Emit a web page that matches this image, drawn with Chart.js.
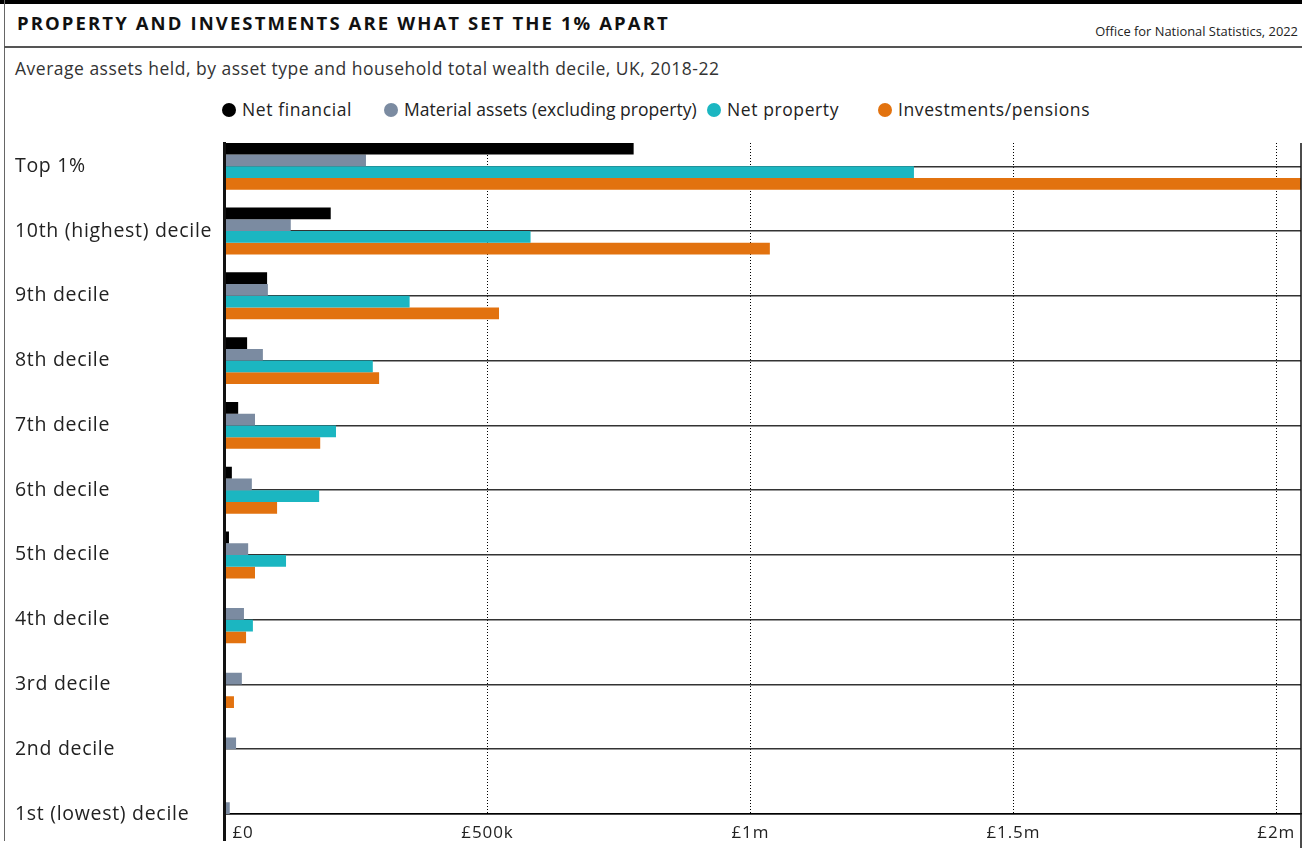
<!DOCTYPE html>
<html>
<head>
<meta charset="utf-8">
<script src="https://cdn.jsdelivr.net/npm/chart.js@4.4.1/dist/chart.umd.min.js"></script>
<style>
  html, body { margin: 0; padding: 0; background: #fff; }
  #wrap { position: relative; width: 1302px; height: 848px; overflow: hidden; font-family: "Open Sans", "Noto Sans", sans-serif; color: #222; }
  #topbar { position: absolute; left: 0; top: 0; width: 1302px; height: 4px; background: #000; }
  #leftborder { position: absolute; left: 4px; top: 0; width: 1px; height: 841px; background: #666; }
  #title { position: absolute; left: 17px; top: 10px; font-weight: 700; font-size: 18.5px; letter-spacing: 2.1px; color: #111; white-space: nowrap; }
  #source { position: absolute; right: 4px; top: 22px; font-size: 12.9px; color: #222; white-space: nowrap; }
  #rule { position: absolute; left: 4px; top: 46px; width: 1298px; height: 2px; background: #555; }
  #subtitle { position: absolute; left: 15px; top: 56px; font-size: 17.5px; letter-spacing: 0.5px; color: #333; white-space: nowrap; }
  .leg { position: absolute; top: 98px; font-size: 17.5px; letter-spacing: 0.6px; color: #222; white-space: nowrap; line-height: 22px; }
  .leg:nth-child(2) { letter-spacing: 0.05px; }
  .leg i { display: inline-block; width: 14px; height: 14px; border-radius: 50%; vertical-align: -1px; margin-right: 6px; }
  #chartbox { position: absolute; left: 0; top: 130px; width: 1302px; height: 718px; }
</style>
</head>
<body>
<div id="wrap">
  <div id="topbar"></div>
  <div id="leftborder"></div>
  <div id="title">PROPERTY AND INVESTMENTS ARE WHAT SET THE 1% APART</div>
  <div id="source">Office for National Statistics, 2022</div>
  <div id="rule"></div>
  <div id="subtitle">Average assets held, by asset type and household total wealth decile, UK, 2018-22</div>
  <div id="legend"></div>
  <div id="chartbox"><canvas id="c" width="1302" height="718"></canvas></div>
</div>
<script>
// ---- data ----
const categories = ["Top 1%", "10th (highest) decile", "9th decile", "8th decile", "7th decile", "6th decile", "5th decile", "4th decile", "3rd decile", "2nd decile", "1st (lowest) decile"];
const seriesNames = ["Net financial", "Material assets (excluding property)", "Net property", "Investments/pensions"];
const netFinancial = [778000, 202000, 81000, 43000, 26000, 14000, 8500, 0, 0, 0, 0];
const materialAssets = [269000, 126000, 82500, 73000, 58000, 52000, 45000, 37000, 33000, 22000, 10000];
const netProperty = [1311000, 582000, 352000, 282000, 212000, 180000, 117000, 54000, 0, 0, 0];
const investmentsPensions = [2200000, 1037000, 522000, 294000, 182000, 100000, 58000, 41000, 18000, 0, 0];
const xTickValues = [0, 500000, 1000000, 1500000, 2000000];
const xTickLabels = ["£0", "£500k", "£1m", "£1.5m", "£2m"];
const xMax = 2047000;

const colors = ["#000000", "#7b8ba1", "#1bb6c1", "#e2720f"];
const legendLeft = [222, 384, 707, 878];

// ---- legend (HTML) ----
const legend = document.getElementById('legend');
seriesNames.forEach((n, i) => {
  const d = document.createElement('div');
  d.className = 'leg';
  d.style.left = legendLeft[i] + 'px';
  d.innerHTML = '<i style="background:' + colors[i] + '"></i>' + n;
  legend.appendChild(d);
});

const seriesValues = [netFinancial, materialAssets, netProperty, investmentsPensions];
const datasets = seriesValues.map((vals, i) => ({
  label: seriesNames[i],
  data: vals.map((v, j) => ({ x: v, y: j })),
  backgroundColor: colors[i],
  borderWidth: 0,
  categoryPercentage: 0.725,
  barPercentage: 1.0
}));

const FONT = '"Open Sans", "Noto Sans", sans-serif';

const framePlugin = {
  id: 'frame',
  beforeDraw(chart) {
    chart.ctx.letterSpacing = '0.7px';
  },
  afterDraw(chart) {
    const { ctx, chartArea } = chart;
    const xs = chart.scales.x;
    ctx.save();
    ctx.strokeStyle = '#111';
    ctx.lineWidth = 3;
    ctx.beginPath();
    ctx.moveTo(chartArea.left, chartArea.top);
    ctx.lineTo(chartArea.left, chartArea.bottom + 27);
    ctx.stroke();
    ctx.lineWidth = 1.5;
    ctx.beginPath();
    ctx.moveTo(1301, chartArea.top);
    ctx.lineTo(1301, chart.height);
    ctx.stroke();
    ctx.fillStyle = '#222';
    ctx.font = '17px ' + FONT;
    ctx.letterSpacing = '0.9px';
    ctx.textBaseline = 'middle';
    xTickValues.forEach((v, i) => {
      const px = xs.getPixelForValue(v);
      if (i === 0) { ctx.textAlign = 'left'; ctx.fillText(xTickLabels[i], px + 8, chartArea.bottom + 19); }
      else { ctx.textAlign = 'center'; ctx.fillText(xTickLabels[i], px, chartArea.bottom + 19); }
    });
    ctx.restore();
  }
};

new Chart(document.getElementById('c'), {
  type: 'bar',
  data: { datasets },
  options: {
    indexAxis: 'y',
    responsive: false,
    animation: false,
    layout: { padding: { top: 13, right: 1, left: 15, bottom: 0 } },
    plugins: { legend: { display: false }, tooltip: { enabled: false } },
    scales: {
      x: {
        type: 'linear',
        min: 0,
        max: xMax,
        afterBuildTicks(scale) { scale.ticks = xTickValues.map(v => ({ value: v })); },
        afterFit(scale) { scale.height = 34; },
        ticks: { display: false },
        grid: { color: '#000', lineWidth: 1, drawTicks: false },
        border: { display: true, color: '#000', width: 1.5, dash: [1, 2] }
      },
      y: {
        type: 'linear',
        reverse: true,
        offset: false,
        min: -0.36,
        max: 10,
        afterBuildTicks(scale) { scale.ticks = categories.map((c, i) => ({ value: i })); },
        afterFit(scale) { scale.width = 209.5; },
        ticks: {
          autoSkip: false,
          crossAlign: 'far',
          padding: 0,
          color: '#222',
          font: { family: FONT, size: 19.5 },
          callback: (v) => categories[v]
        },
        grid: { offset: false, color: '#333', lineWidth: 1.5, drawTicks: false },
        border: { display: true, color: '#111', width: 3 }
      }
    }
  },
  plugins: [framePlugin]
});
</script>
</body>
</html>
